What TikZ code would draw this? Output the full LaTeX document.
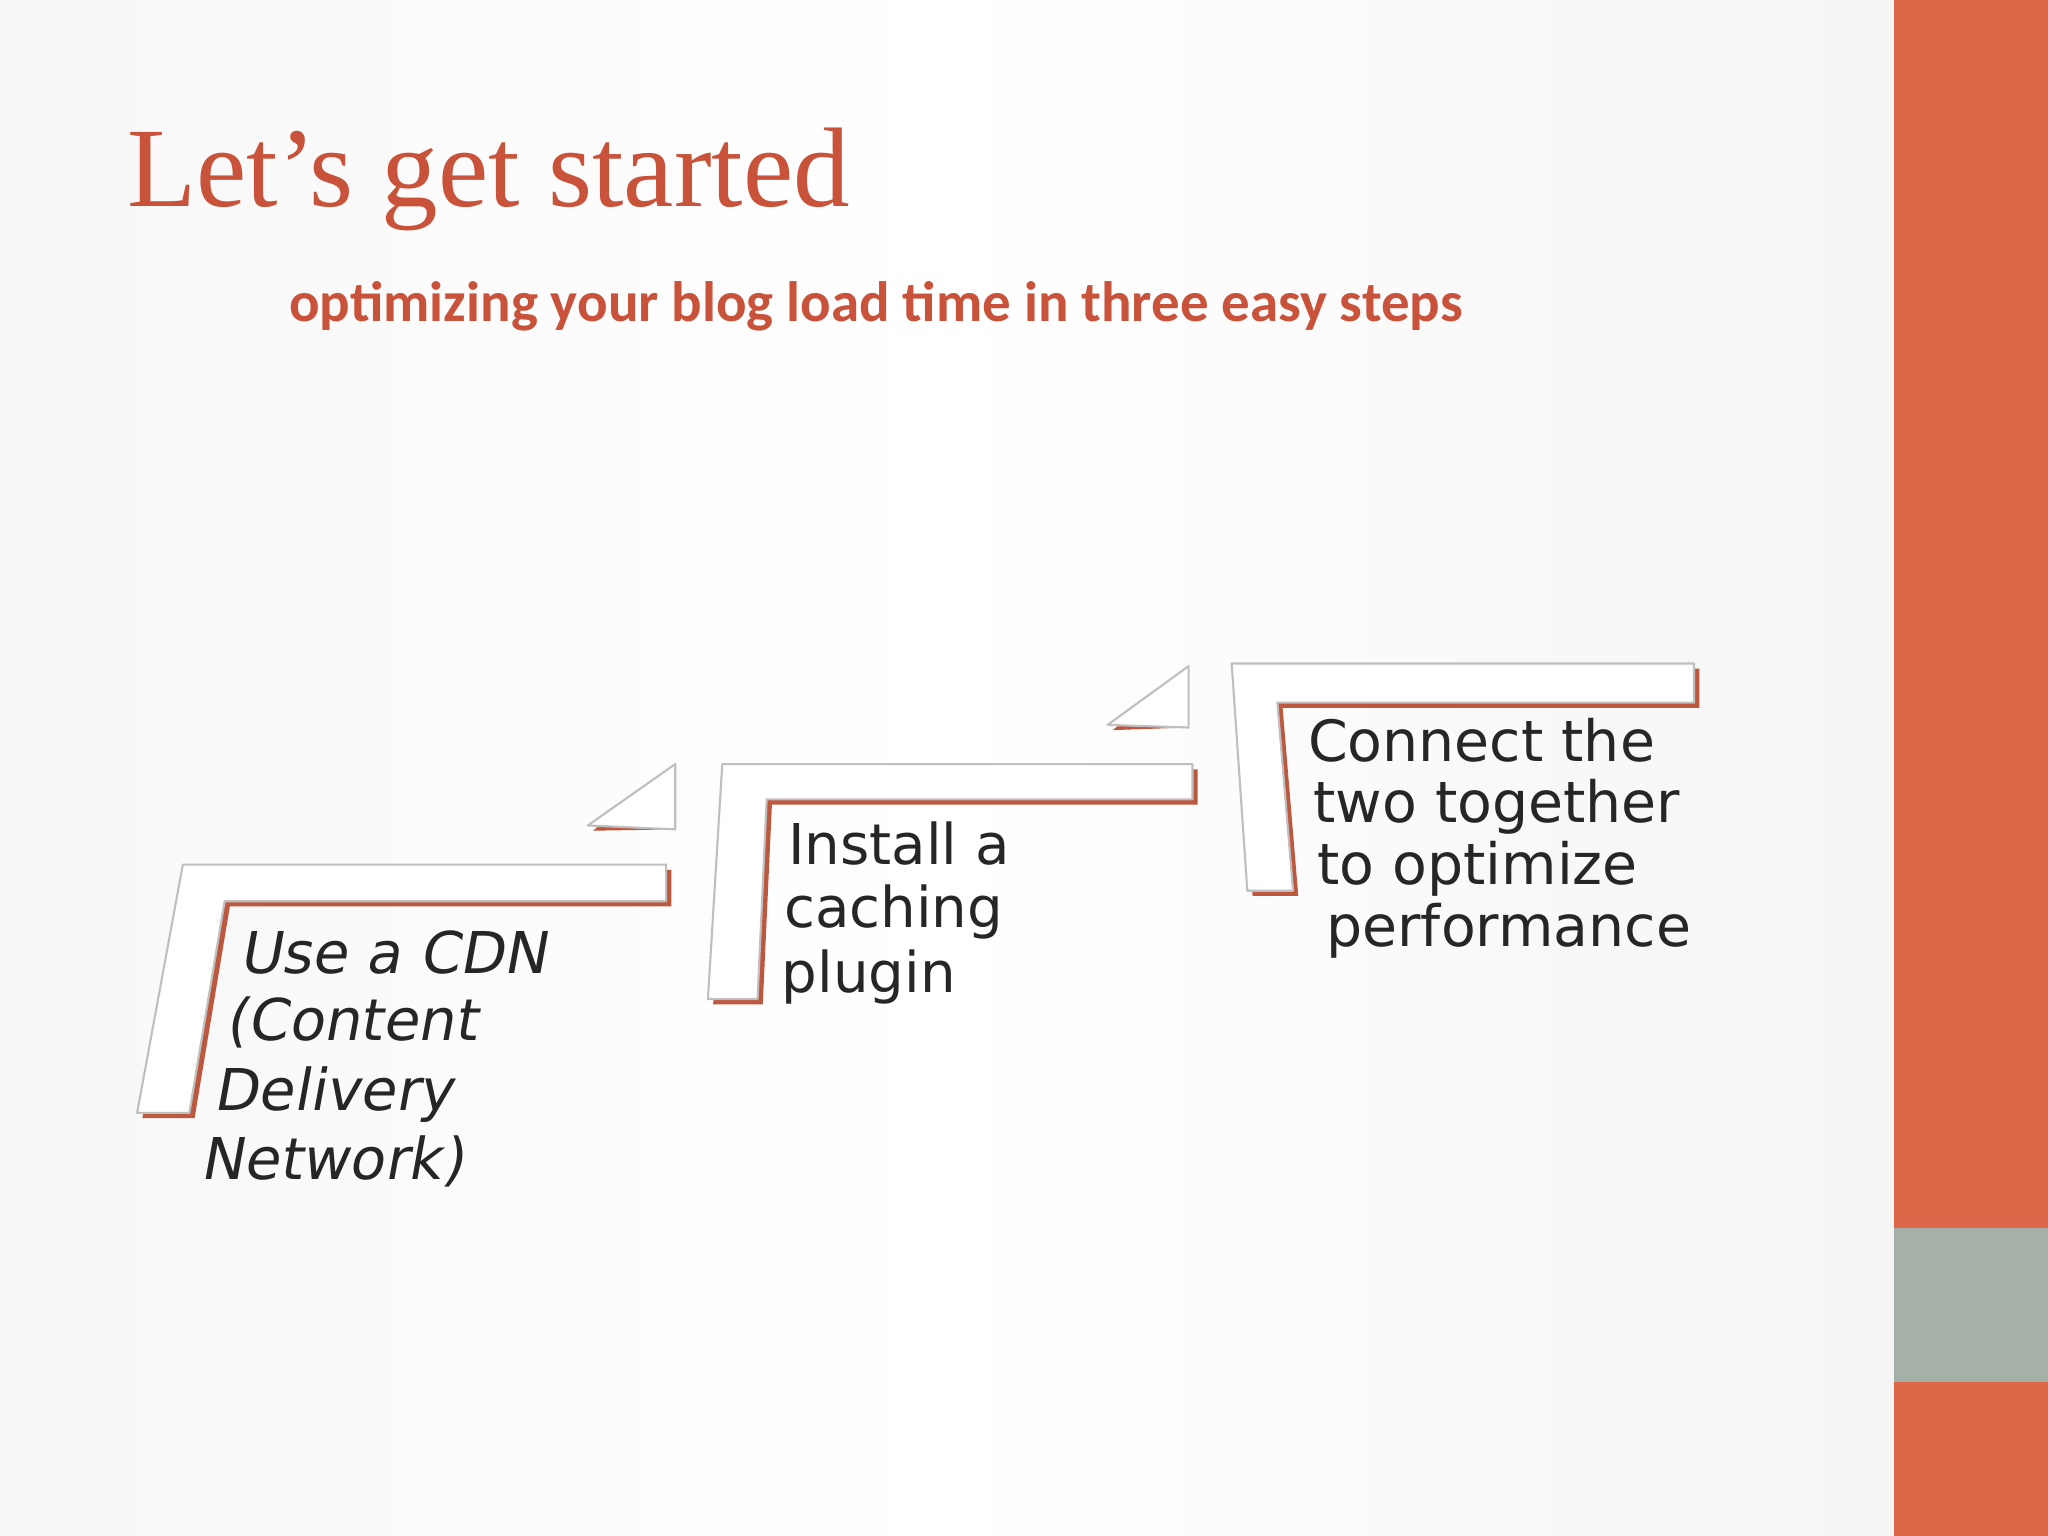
\documentclass[tikz,border=0pt]{standalone}
\usepackage{fontspec}
\setmainfont{Liberation Serif}
\newfontfamily\subf{Carlito}
\newfontfamily\stepf{DejaVu Sans}
\newfontfamily\stepfs[FakeSlant=0.18]{DejaVu Sans}
\definecolor{orn}{HTML}{DD6749}
\definecolor{ttl}{HTML}{C9533A}
\definecolor{gry}{HTML}{A5B0A9}
\tikzset{
 stepshape/.style={fill=white,draw=black!25,line width=0.6pt,line join=round},
 shad/.style={fill=orn!85!black,draw=none},
 steptext/.style={anchor=base west,inner sep=0pt,font=\stepf\fontsize{16}{19}\selectfont,text=black!85},
 steptexts/.style={steptext,font=\stepfs\fontsize{16.4}{19}\selectfont}
}
\begin{document}
\begin{tikzpicture}[x=0.013061cm,y=-0.013061cm]
\useasboundingbox (0,0) rectangle (1568,1176);
\shade[left color=black!3,right color=black!4,middle color=white] (0,0) rectangle (1450,1176);
\fill[orn] (1450,0) rectangle (1568,1176);
\fill[gry] (1450,940) rectangle (1568,1058);
\node[anchor=base west,inner sep=0pt,text=ttl,font=\fontsize{32.2}{38}\selectfont] (title) at (97,158) {Let’s get started};
\node[anchor=base west,inner sep=0pt,text=ttl,font=\subf\bfseries\fontsize{16.2}{19}\selectfont] (sub) at (221,246) {optimizing your blog load time in three easy steps};
\foreach \d/\s in {4/shad,0/stepshape}{
 \path[\s] ([shift={(\d,\d)}]140,662) -- ++(370,0) -- ++(0,28) -- ++(-338,0) -- ++(-27,162) -- ++(-40,0) -- cycle;
 \path[\s] ([shift={(\d,\d)}]450,632) -- (517,585) -- (517,635) -- cycle;
 \path[\s] ([shift={(\d,\d)}]553,585) -- ++(360,0) -- ++(0,27) -- ++(-326,0) -- ++(-7,153) -- ++(-38,0) -- cycle;
 \path[\s] ([shift={(\d,\d)}]848,555) -- (910,510) -- (910,557) -- cycle;
 \path[\s] ([shift={(\d,\d)}]943,508) -- ++(354,0) -- ++(0,30) -- ++(-319,0) -- ++(12,144) -- ++(-35,0) -- cycle;
}
\node[steptexts] (a1) at (183,745) {Use a CDN};
\node[steptexts] (a2) at (172,797) {(Content};
\node[steptexts] (a3) at (163,850) {Delivery};
\node[steptexts] (a4) at (153,903) {Network)};
\node[steptext] (b1) at (603,662) {Install a};
\node[steptext] (b2) at (600,710) {caching};
\node[steptext] (b3) at (598,760) {plugin};
\node[steptext,font=\stepf\fontsize{16.2}{19}\selectfont] (c1) at (1001,583) {Connect the};
\node[steptext,font=\stepf\fontsize{16.2}{19}\selectfont] (c2) at (1005,630) {two together};
\node[steptext,font=\stepf\fontsize{16.2}{19}\selectfont] (c3) at (1008,677) {to optimize};
\node[steptext,font=\stepf\fontsize{16.2}{19}\selectfont] (c4) at (1015,725) {performance};
\end{tikzpicture}
\end{document}
